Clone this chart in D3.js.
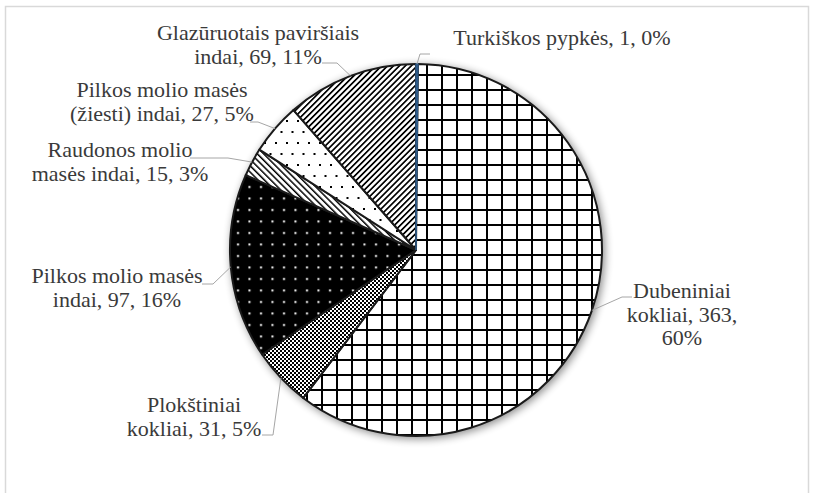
<!DOCTYPE html>
<html>
<head>
<meta charset="utf-8">
<script src="https://cdn.jsdelivr.net/npm/d3@7"></script>
<style>
  body { margin: 0; background: #fff; }
  svg { display: block; }
</style>
</head>
<body>
<div id="chart"></div>
<script>
// Data
const categories = [
    "Turkiškos pypkės",
    "Dubeniniai kokliai",
    "Plokštiniai kokliai",
    "Pilkos molio masės indai",
    "Raudonos molio masės indai",
    "Pilkos molio masės (žiesti) indai",
    "Glazūruotais paviršiais indai"
];
const values = [1, 363, 31, 97, 15, 27, 69];
const percents = [0, 60, 5, 16, 3, 5, 11];

// words per label line (how the labels wrap)
const wraps = [[4], [1, 2, 1], [1, 3], [3, 3], [2, 4], [3, 4], [2, 3]];

// label placement: centre x, first baseline, leader start and elbow
const labelLayout = [
    { x: 562, y: 45, leader: [[430, 54], [420, 54]] },
    { x: 682, y: 298, leader: [[632, 297], [622, 297]] },
    { x: 194, y: 412, leader: [[262, 435], [273, 435]] },
    { x: 117, y: 283, leader: [[202, 284], [213, 284]] },
    { x: 120, y: 157, leader: [[190, 158], [228, 158]] },
    { x: 162, y: 97, leader: [[250, 122], [258, 122]] },
    { x: 258, y: 40, leader: [[322, 63], [337, 63]] }
];

const width = 818, height = 493;
const cx = 416, cy = 250, r = 186;
const lineH = 23.5;

const svg = d3.select("#chart").append("svg")
    .attr("width", width)
    .attr("height", height);

const defs = svg.append("defs");

// grid pattern
const pGrid = defs.append("pattern").attr("id", "p-grid")
    .attr("patternUnits", "userSpaceOnUse")
    .attr("x", 11).attr("y", 5).attr("width", 15).attr("height", 15);
pGrid.append("rect").attr("width", 15).attr("height", 15).attr("fill", "#fff");
pGrid.append("rect").attr("x", -1).attr("width", 2).attr("height", 15).attr("fill", "#000");
pGrid.append("rect").attr("y", -1).attr("width", 15).attr("height", 2).attr("fill", "#000");
pGrid.append("rect").attr("x", 14).attr("width", 2).attr("height", 15).attr("fill", "#000");
pGrid.append("rect").attr("y", 14).attr("width", 15).attr("height", 2).attr("fill", "#000");

// fine checker
const pCheck = defs.append("pattern").attr("id", "p-check")
    .attr("patternUnits", "userSpaceOnUse")
    .attr("width", 4).attr("height", 4);
pCheck.append("rect").attr("width", 4).attr("height", 4).attr("fill", "#fff");
pCheck.append("rect").attr("width", 2).attr("height", 2).attr("fill", "#000");
pCheck.append("rect").attr("x", 2).attr("y", 2).attr("width", 2).attr("height", 2).attr("fill", "#000");

// black with white dots
const pDark = defs.append("pattern").attr("id", "p-dark")
    .attr("patternUnits", "userSpaceOnUse")
    .attr("width", 11.5).attr("height", 11.5);
pDark.append("rect").attr("width", 11.5).attr("height", 11.5).attr("fill", "#000");
pDark.append("rect").attr("x", 5).attr("y", 5).attr("width", 2).attr("height", 2).attr("fill", "#fff");

// diagonal stripes
function stripes(id, angle, step, w) {
    const p = defs.append("pattern").attr("id", id)
        .attr("patternUnits", "userSpaceOnUse")
        .attr("width", step).attr("height", step)
        .attr("patternTransform", `rotate(${angle})`);
    p.append("rect").attr("width", step).attr("height", step).attr("fill", "#fff");
    p.append("rect").attr("width", w).attr("height", step).attr("fill", "#000");
}
stripes("p-back", -45, 4.5, 1.5);
stripes("p-fwd", 45, 4.2, 1.7);

// sparse black dots
const pDots = defs.append("pattern").attr("id", "p-dots")
    .attr("patternUnits", "userSpaceOnUse")
    .attr("width", 11).attr("height", 22);
pDots.append("rect").attr("width", 11).attr("height", 22).attr("fill", "#fff");
pDots.append("rect").attr("x", 2).attr("y", 2).attr("width", 2).attr("height", 2).attr("fill", "#000");
pDots.append("rect").attr("x", 7.5).attr("y", 13).attr("width", 2).attr("height", 2).attr("fill", "#000");

const fills = ["#2e5a87", "url(#p-grid)", "url(#p-check)", "url(#p-dark)",
    "url(#p-back)", "url(#p-dots)", "url(#p-fwd)"];

// soft shadow
const blur = defs.append("filter").attr("id", "shadow")
    .attr("x", "-20%").attr("y", "-20%").attr("width", "140%").attr("height", "140%");
blur.append("feGaussianBlur").attr("stdDeviation", 4);

// chart frame
svg.append("path")
    .attr("d", `M5.5,${height} V6.5 H808.5 V${height}`)
    .attr("fill", "none")
    .attr("stroke", "#d9d9d9")
    .attr("stroke-width", 1.5);

const g = svg.append("g").attr("transform", `translate(${cx},${cy})`);

g.append("circle")
    .attr("cx", 2).attr("cy", 2).attr("r", r + 1)
    .attr("fill", "#000").attr("opacity", 0.45)
    .attr("filter", "url(#shadow)");

const pie = d3.pie().sort(null).value((d) => d);
const arcs = pie(values);
const arc = d3.arc().innerRadius(0).outerRadius(r);

g.selectAll("path.slice")
    .data(arcs)
    .join("path")
    .attr("class", "slice")
    .attr("d", arc)
    .attr("fill", (d, i) => fills[i])
    .attr("stroke", (d, i) => (i === 0 ? "#2e5a87" : "#1a1a1a"))
    .attr("stroke-width", (d, i) => (i === 0 ? 1.2 : 2))
    .attr("stroke-linejoin", "round");

// redraw the blue slice on top so it stays visible
g.append("path")
    .attr("d", arc(arcs[0]))
    .attr("fill", fills[0])
    .attr("stroke", "#2e5a87")
    .attr("stroke-width", 1.5);

// leader lines
const rim = (d) => {
    const a = (d.startAngle + d.endAngle) / 2;
    return [cx + r * Math.sin(a), cy - r * Math.cos(a)];
};

svg.selectAll("polyline.leader")
    .data(arcs)
    .join("polyline")
    .attr("class", "leader")
    .attr("points", (d, i) => labelLayout[i].leader.concat([rim(d)]).map((p) => p.join(",")).join(" "))
    .attr("fill", "none")
    .attr("stroke", "#a6a6a6")
    .attr("stroke-width", 1);

// labels, one text element per line
arcs.forEach((d, i) => {
    const words = `${categories[i]}, ${values[i]}, ${percents[i]}%`.split(" ");
    const lay = labelLayout[i];
    let k = 0;
    wraps[i].forEach((n, j) => {
        svg.append("text")
            .attr("x", lay.x)
            .attr("y", lay.y + j * lineH)
            .attr("text-anchor", "middle")
            .style("font-family", '"Times New Roman", "Liberation Serif"')
            .style("font-size", "22px")
            .style("fill", "#3a3a3a")
            .text(words.slice(k, k + n).join(" "));
        k += n;
    });
});
</script>
</body>
</html>
